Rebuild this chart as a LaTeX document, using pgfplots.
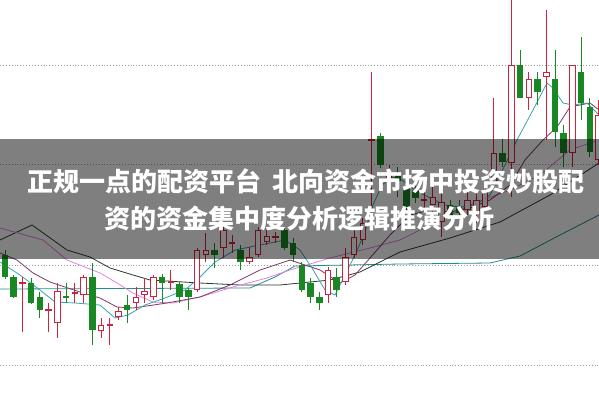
\documentclass[border=0pt]{standalone}
\usepackage{pgfplots}
\pgfplotsset{compat=1.18}
\usepackage{pgfplotstable}
\usepackage{fontspec}
\newfontfamily\cjk{Noto Sans CJK SC}
\definecolor{cred}{RGB}{205,35,60}
\definecolor{cgreen}{RGB}{25,135,35}
\definecolor{ma5}{RGB}{55,165,175}
\definecolor{ma10}{RGB}{125,55,105}
\definecolor{ma20}{RGB}{225,130,225}
\definecolor{ma30}{RGB}{40,60,40}
\definecolor{ma60}{RGB}{40,140,140}

\pgfplotstableread{
x top bot hi lo
22.5 282 284 277 332
48.7 309 311 303 332
57.4 291 323 283 338
74.8 292 294 283 303
83.6 277 295 275 303
101 325 331 318 338
109.8 324 326 318 345
118.5 311 317 307 320
136 297 303 287 310
144.7 291 295 278 303
153.4 277 297 275 300
170.9 281 283 270 290
197.1 250 290 248 292
205.8 250 255 233 262
223.3 230 248 226 258
232 242 244 235 253
249.4 257 262 247 264
258.2 230 255 227 257
266.9 236 242 230 245
275.6 236 238 232 243
328 270 295 267 303
345.5 257 282 248 285
354.2 237 255 227 258
362.9 223 240 218 245
371.7 139 141 72 212
389.1 172 178 165 182
424 199 201 190 210
432.8 197 205 185 215
441.5 202 222 193 237
467.7 200 210 190 215
476.4 200 215 193 223
485.2 190 207 185 210
493.9 153 185 98 187
511.3 65 163 0 197
528.8 79 98 72 110
546.3 72 77 10 140
572.5 65 153 65 167
598.6 115 160 100 165
}\redtab

\pgfplotstableread{
x top bot hi lo
5 255 277 250 279
13.7 277 297 275 298
31.2 283 303 278 304
39.9 297 310 292 318
66.1 296 298 283 303
92.3 277 330 263 345
127.2 305 310 295 323
162.1 277 283 274 303
179.6 284 297 282 303
188.3 290 297 288 310
214.5 250 255 243 268
240.7 250 262 245 270
284.4 230 248 227 250
293.1 243 255 238 262
301.8 265 290 262 292
310.6 283 297 278 303
319.3 297 303 292 310
336.7 277 290 268 297
380.4 136 165 133 168
397.9 175 181 167 197
406.6 187 208 175 212
415.3 190 198 183 203
450.2 205 218 200 225
459 207 213 200 220
502.6 153 162 139 167
520.1 65 98 50 98
537.5 79 92 72 105
555 79 132 50 147
563.7 133 153 125 167
581.2 72 103 37 120
589.9 107 152 98 157
}\greentab

\pgfplotsset{
  candle/.style 2 args={only marks, mark=*, mark size=0pt,
    mark options={draw opacity=0, fill opacity=0}, color=#1,
    error bars/.cd, y dir=plus, y explicit, error mark=none,
    error bar style={color=#1, line width=#2, solid}},
}

\begin{document}
\begin{tikzpicture}
\begin{axis}[
  width=599pt, height=399pt, scale only axis,
  xmin=0, xmax=599, ymin=0, ymax=399, y dir=reverse,
  hide axis, clip=true,
]
% grid lines
\addplot[gray!75, dotted, line width=0.9pt, forget plot] coordinates {(0,65) (599,65)};
\addplot[gray!75, dotted, line width=0.9pt, forget plot] coordinates {(0,164) (599,164)};
\addplot[gray!75, dotted, line width=0.9pt, forget plot] coordinates {(0,265) (599,265)};
\addplot[gray!75, dotted, line width=0.9pt, forget plot] coordinates {(0,365) (599,365)};

% moving averages
\addplot[ma60, line width=0.8pt] coordinates {(0,289) (250,288) (275,277) (295,266) (400,264) (490,263) (520,256) (560,235) (599,215)};
\addplot[ma30, line width=0.8pt] coordinates {(0,240) (32,225) (67,250) (90,257) (110,268) (133,275) (150,280) (200,283) (240,285) (280,285) (300,283) (330,280) (360,272) (400,252) (450,238) (500,222) (550,195) (599,163)};
\addplot[ma20, line width=0.8pt] coordinates {(0,228) (43,240) (67,260) (100,273) (117,283) (133,293) (153,302) (173,303) (200,297) (233,287) (267,278) (290,270) (330,258) (370,248) (400,240) (430,225) (470,205) (510,190) (540,175) (570,150) (599,140)};
\addplot[ma10, line width=0.8pt] coordinates {(0,253) (17,260) (33,273) (50,282) (83,293) (100,298) (117,307) (133,308) (167,303) (200,297) (230,285) (260,270) (290,260) (320,270) (340,283) (355,275) (370,258) (390,235) (410,215) (430,210) (450,212) (470,208) (490,200) (510,185) (525,160) (543,140) (557,127) (570,107) (580,105) (590,103) (599,110)};
\addplot[ma5, line width=0.8pt] coordinates {(0,262) (20,275) (40,290) (55,302) (75,303) (100,305) (115,318) (128,315) (145,305) (165,298) (185,290) (200,277) (215,262) (235,250) (260,245) (285,240) (300,250) (312,268) (325,290) (335,295) (345,275) (355,255) (365,232) (373,205) (382,185) (392,177) (402,180) (415,190) (430,198) (445,205) (460,207) (475,205) (490,195) (505,165) (517,140) (533,110) (547,83) (553,88) (563,103) (573,105) (587,103) (599,115)};

% wicks
\addplot[candle={cred}{1pt}] table[x=x, y=hi, y error expr=\thisrow{lo}-\thisrow{hi}] {\redtab};
\addplot[candle={cgreen}{1pt}] table[x=x, y=hi, y error expr=\thisrow{lo}-\thisrow{hi}] {\greentab};
% bodies
\addplot[candle={cred}{6.5pt}] table[x=x, y=top, y error expr=\thisrow{bot}-\thisrow{top}] {\redtab};
\addplot[candle={white}{4.5pt}] table[x=x, y expr=\thisrow{top}+1.1, y error expr={max(0,\thisrow{bot}-\thisrow{top}-2.2)}] {\redtab};
\addplot[candle={cgreen}{6.5pt}] table[x=x, y=top, y error expr=\thisrow{bot}-\thisrow{top}] {\greentab};

% banner
\fill[black, opacity=0.5] (axis cs:0,139) rectangle (axis cs:599,258.5);
\node[text=white, font=\cjk\bfseries\fontsize{26}{30}\selectfont, anchor=center] at (axis cs:306,181) {正规一点的配资平台\hspace{0.45em}北向资金市场中投资炒股配};
\node[text=white, font=\cjk\bfseries\fontsize{26}{30}\selectfont, anchor=center] at (axis cs:299.5,219) {资的资金集中度分析逻辑推演分析};

\coordinate (A) at (rel axis cs:0,0);
\coordinate (B) at (rel axis cs:1,1);
\end{axis}
\pgfresetboundingbox
\path[use as bounding box] (A) rectangle (B);
\end{tikzpicture}
\end{document}
